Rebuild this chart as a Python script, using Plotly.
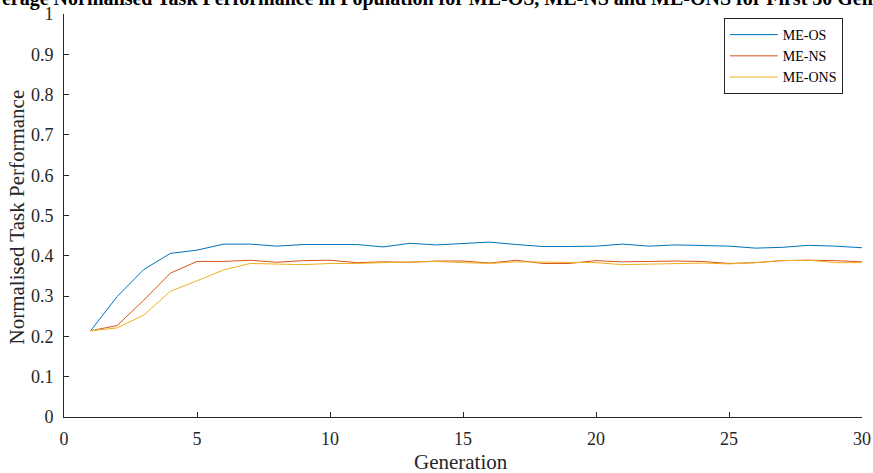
import plotly.graph_objects as go

generations = list(range(1, 31))
me_os = [0.214, 0.299, 0.366, 0.406, 0.414, 0.429, 0.429, 0.424, 0.428, 0.428,
         0.428, 0.422, 0.431, 0.427, 0.430, 0.434, 0.428, 0.423, 0.423, 0.424,
         0.429, 0.424, 0.427, 0.425, 0.424, 0.419, 0.421, 0.426, 0.424, 0.420]
me_ns = [0.214, 0.227, 0.290, 0.357, 0.386, 0.386, 0.389, 0.384, 0.388, 0.389,
         0.383, 0.385, 0.384, 0.387, 0.387, 0.382, 0.389, 0.381, 0.381, 0.388,
         0.385, 0.386, 0.387, 0.386, 0.381, 0.383, 0.388, 0.389, 0.388, 0.385]
me_ons = [0.214, 0.221, 0.253, 0.312, 0.338, 0.365, 0.381, 0.380, 0.378, 0.381,
          0.381, 0.383, 0.384, 0.386, 0.383, 0.381, 0.385, 0.384, 0.384, 0.383,
          0.378, 0.379, 0.380, 0.382, 0.380, 0.383, 0.388, 0.389, 0.383, 0.383]
series_names = ["ME-OS", "ME-NS", "ME-ONS"]
colors = ["#0072BD", "#D95319", "#EDB120"]
x_ticks = [0, 5, 10, 15, 20, 25, 30]
y_ticks = [0, 0.1, 0.2, 0.3, 0.4, 0.5, 0.6, 0.7, 0.8, 0.9, 1]
title_text = "Average Normalised Task Performance in Population for ME-OS, ME-NS and ME-ONS for First 30 Generations"
x_title = "Generation"
y_title = "Normalised Task Performance"

FONT = "Liberation Serif"

fig = go.Figure()
for name, vals, c in zip(series_names, [me_os, me_ns, me_ons], colors):
    fig.add_trace(go.Scatter(x=generations, y=vals, mode="lines", name=name,
                             line=dict(color=c, width=1)))

fig.update_layout(
    width=873, height=473,
    margin=dict(l=64, r=11, t=14, b=56, autoexpand=False),
    paper_bgcolor="white", plot_bgcolor="white",
    font=dict(family=FONT, size=18, color="#262626"),
    legend=dict(x=0.976, xanchor="right", y=0.99, yanchor="top",
                bordercolor="#262626", borderwidth=1, bgcolor="white",
                font=dict(family=FONT, size=14, color="#000000"),
                itemwidth=48, tracegroupgap=0),
    showlegend=True,
)
fig.add_annotation(text="<b>" + title_text + "</b>", xref="paper", yref="paper",
                   x=0.5, y=1, xanchor="center", yanchor="bottom", yshift=2, xshift=-3,
                   showarrow=False, font=dict(family=FONT, size=20, color="#000000"))
fig.add_annotation(text=x_title, xref="paper", yref="paper",
                   x=0.498, y=-0.1117, xanchor="center", yanchor="middle",
                   showarrow=False, font=dict(family=FONT, size=21, color="#262626"))
fig.add_annotation(text=y_title, xref="paper", yref="paper", textangle=-90,
                   x=-0.0589, y=0.4975, xanchor="center", yanchor="middle",
                   showarrow=False, font=dict(family=FONT, size=21, color="#262626"))
fig.update_xaxes(range=[0, 30], tickvals=x_ticks, ticks="inside", ticklen=5,
                 ticklabelstandoff=5,
                 showline=True, linecolor="#262626", linewidth=1, tickcolor="#262626",
                 showgrid=False, zeroline=False, mirror=False, automargin=False)
fig.update_yaxes(range=[0, 1], tickvals=y_ticks, ticks="inside", ticklen=5,
                 ticklabelstandoff=6,
                 showline=True, linecolor="#262626", linewidth=1, tickcolor="#262626",
                 showgrid=False, zeroline=False, mirror=False, automargin=False)

fig.write_html("out.html", config={"displayModeBar": False},
               post_script="document.body.style.margin='0';document.body.style.overflow='hidden';")
